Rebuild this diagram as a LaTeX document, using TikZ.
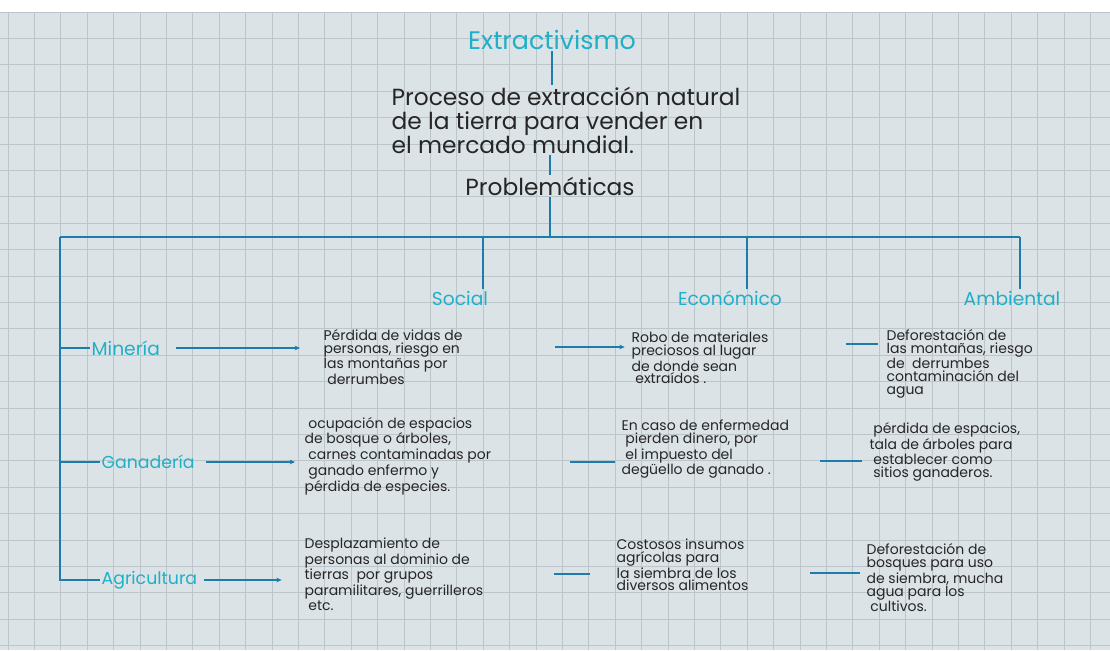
\documentclass[tikz,border=0pt]{standalone}
\usepackage{fontspec}
\setmainfont{Poppins}
\usetikzlibrary{arrows.meta}
\definecolor{paper}{HTML}{DCE3E6}
\definecolor{gridc}{HTML}{BCC5C9}
\definecolor{ink}{HTML}{1C7DAA}
\definecolor{cyanink}{HTML}{1EB0C8}
\definecolor{txt}{HTML}{262626}
\tikzset{
 link/.style={draw=ink, line width=1.3pt},
 arr/.style={link, -{Stealth[length=4pt,width=3.5pt]}},
 head/.style={text=cyanink, font=\fontsize{19}{21}\selectfont, inner sep=1pt},
 cat/.style={text=cyanink, font=\fontsize{14}{16}\selectfont, inner sep=1pt},
 lbl/.style={text=cyanink, font=\fontsize{13}{15}\selectfont, inner sep=1pt, anchor=west},
 big/.style={text=txt, font=\fontsize{17.5}{18}\selectfont, align=left, inner sep=1pt},
 small/.style={text=txt, font=\fontsize{10.5}{9.6}\selectfont, align=left, inner sep=1pt, anchor=west},
}
\begin{document}
\begin{tikzpicture}[x=0.75pt,y=-0.75pt]
\useasboundingbox (0,0) rectangle (1110,650);
\fill[white] (0,0) rectangle (1110,12);
\fill[paper] (0,12) rectangle (1110,650);
\foreach \i in {0,...,42} \draw[gridc, line width=0.6pt] (8+26.4*\i,12) -- (8+26.4*\i,650);
\foreach \j in {0,...,24} \draw[gridc, line width=0.6pt] (0,12+26.4*\j) -- (1110,12+26.4*\j);

% top
\node[head] (t) at (552,40) {Extractivismo};
\node[big] (p) at (566,120) {Proceso de extracción natural\\de la tierra para vender en\\el mercado mundial.};
\node[big] (pr) at (550,186) {Problemáticas};
\draw[link] (t.south) -- (t.south |- p.north);
\draw[link] (pr.north |- p.south) -- (pr.north);
\coordinate (bl) at (60,237);
\coordinate (br) at (1020,237);
\draw[link] (pr.south) -- (pr.south |- bl);
\draw[link] (bl) -- (br);

% categories
\node[cat] (s) at (460,298) {Social};
\node[cat] (e) at (730,298) {Económico};
\node[cat] (a) at (1012,298) {Ambiental};
\draw[link] (483,237) -- (s.north -| 483,0);
\draw[link] (747,237) -- (e.north -| 747,0);
\draw[link] (br) -- (a.north -| br);

% rows labels
\node[lbl, font=\fontsize{14}{16}\selectfont] (min) at (90,348) {Minería};
\node[lbl] (gan) at (100,462) {Ganadería};
\node[lbl] (agr) at (100,580) {Agricultura};
\coordinate (bb) at (60,580);
\draw[link] (bl) -- (bb) -- (agr.west);
\draw[link] (bl |- min) -- (min.west);
\draw[link] (bl |- gan) -- (gan.west);

% texts
\node[small] (minS) at (322,357) {Pérdida de vidas de\\personas, riesgo en\\las montañas por\\\ derrumbes};
\node[small] (minE) at (630,358) {Robo de materiales\\preciosos al lugar\\de donde sean\\\ extraídos .};
\node[small] (minA) at (885,364) {Deforestación de\\las montañas, riesgo\\de \ derrumbes\\contaminación del\\agua};
\node[small] (ganS) at (303,456) {\ ocupación de espacios\\de bosque o árboles,\\\ carnes contaminadas por\\\ ganado enfermo y\\pérdida de especies.};
\node[small] (ganE) at (620,449) {En caso de enfermedad\\\ pierden dinero, por\\\ el impuesto del\\degüello de ganado .};
\node[small] (ganA) at (868,452) {\ pérdida de espacios,\\tala de árboles para\\\ establecer como\\\ sitios ganaderos.};
\node[small] (agrS) at (303,574) {Desplazamiento de\\personas al dominio de\\tierras \ por grupos\\paramilitares, guerrilleros\\\ etc.};
\node[small] (agrE) at (615,565) {Costosos insumos\\agrícolas para\\la siembra de los\\diversos alimentos};
\node[small] (agrA) at (865,578) {Deforestación de\\bosques para uso\\de siembra, mucha\\agua para los\\\ cultivos.};

% connectors
\draw[arr, shorten <=11pt, shorten >=16.5pt] (min.east) -- (min.east -| minS.west);
\draw[arr, shorten <=7.5pt, shorten >=6pt] (gan.east) -- (gan.east -| ganS.west);
\draw[arr, shorten <=4pt, shorten >=16pt] (agr.east) -- (agr.east -| agrS.west);
\draw[arr, shorten <=68pt, shorten >=4pt] (minS.east |- 0,347) -- (minE.west |- 0,347);
\draw[link, shorten <=57pt, shorten >=5pt] (minE.east |- 0,344) -- (minA.west |- 0,344);
\draw[link, shorten <=58pt, shorten >=4pt] (ganS.east |- 0,462) -- (ganE.west |- 0,462);
\draw[link, shorten <=22pt, shorten >=4.5pt] (ganE.east |- 0,461) -- (ganA.west |- 0,461);
\draw[link, shorten <=52pt, shorten >=19pt] (agrS.east |- 0,574) -- (agrE.west |- 0,574);
\draw[link, shorten <=45pt, shorten >=4pt] (agrE.east |- 0,573) -- (agrA.west |- 0,573);
\end{tikzpicture}
\end{document}
